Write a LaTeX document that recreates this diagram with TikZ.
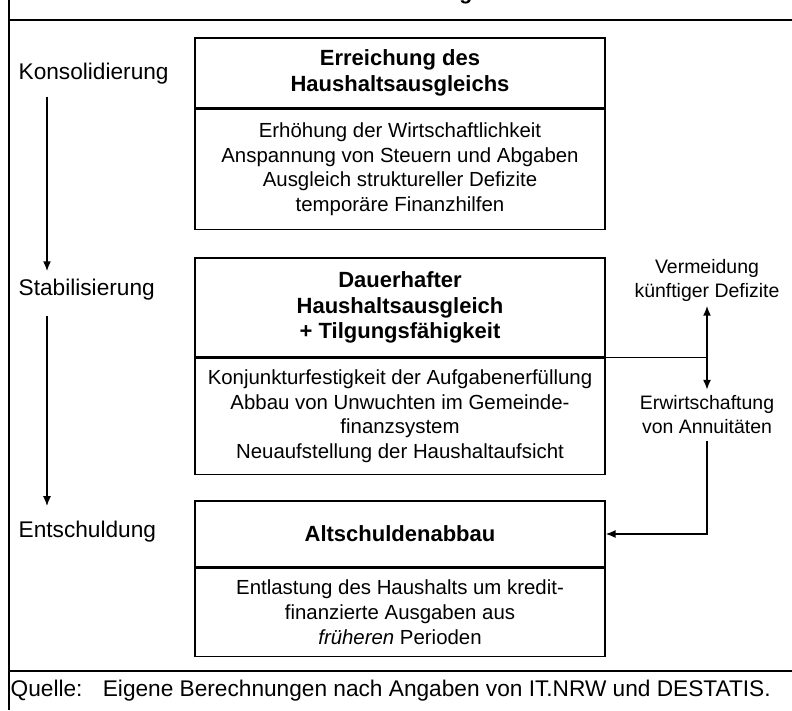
\documentclass[tikz,border=0pt]{standalone}
\usepackage{fontspec}
\setmainfont{Liberation Sans}
\usetikzlibrary{positioning}
\usetikzlibrary{arrows.meta}
\tikzset{head/.style={draw,line width=0.8pt,minimum width=307.5pt,align=center,inner sep=0pt,font=\fontsize{16.5}{19}\selectfont\bfseries},
body/.style={draw,line width=0.8pt,minimum width=307.5pt,align=center,inner sep=0pt,font=\fontsize{15.3}{18.5}\selectfont},
phase/.style={anchor=west,inner sep=0pt,font=\fontsize{17}{20}\selectfont},
note/.style={align=center,inner sep=0pt,font=\fontsize{14.6}{18}\selectfont},
arr/.style={line width=1.3pt,-{Latex[length=7.5pt,width=6pt]}},
frame/.style={line width=1.1pt}}

\begin{document}
\begin{tikzpicture}[x=0.75pt,y=-0.75pt,line width=1pt]
%[scale=0.75]
\clip (0,0) rectangle (792,710);

\node (title) at (396,-0.5) [anchor=base,inner sep=0pt,font=\fontsize{16}{18}\selectfont\bfseries] {Schritte zur dauerhaften Konsolidierung der Kommunalhaushalte};
\draw[frame] (9,0) -- (9,710);
\draw[frame] (9,20) -- (792,20);
\draw[frame] (9,671) -- (792,671);

\node (h1) at (400,73) [head,minimum height=52.5pt] {Erreichung des\\Haushaltsausgleichs};
\node (b1) [body,below=0pt of h1,minimum height=90pt] {Erhöhung der Wirtschaftlichkeit\\Anspannung von Steuern und Abgaben\\Ausgleich struktureller Defizite\\temporäre Finanzhilfen};
\node (h2) at (400,307.5) [head,minimum height=74.25pt] {Dauerhafter\\Haushaltsausgleich\\+ Tilgungsfähigkeit};
\node (b2) [body,below=0pt of h2,minimum height=87pt] {Konjunkturfestigkeit der Aufgabenerfüllung\\Abbau von Unwuchten im Gemeinde-\\finanzsystem\\Neuaufstellung der Haushaltaufsicht};
\node (h3) at (400,534) [head,minimum height=49.5pt] {Altschuldenabbau};
\node (b3) [body,below=0pt of h3,minimum height=66pt] {Entlastung des Haushalts um kredit-\\finanzierte Ausgaben aus\\\emph{früheren} Perioden};

\node (kons) at (18,74) [phase] {Konsolidierung};
\node (stab) at (18,290) [phase] {Stabilisierung};
\node (ents) at (18,532) [phase] {Entschuldung};
\draw[arr,shorten <=8.6pt,shorten >=5.6pt] ([xshift=21.75pt]kons.south west) -- ([xshift=21.75pt]stab.north west);
\draw[arr,shorten <=10.9pt,shorten >=10.9pt] ([xshift=21.75pt]stab.south west) -- ([xshift=21.75pt]ents.north west);

\node (verm) at (707,280) [note] {Vermeidung\\künftiger Defizite};
\node (erw) at (707,415) [note] {Erwirtschaftung\\von Annuitäten};
\coordinate (j) at (h2.south east -| verm);
\draw[line width=0.8pt] (h2.south east) -- (j);
\draw[arr,shorten >=3pt] (j) -- (verm);
\draw[arr,shorten >=4pt] (j) -- (erw);
\draw[arr,shorten <=5pt] (erw.south) |- (h3.east);

\node (quelle) at (10,691) [anchor=west,inner sep=0pt,font=\fontsize{17}{20}\selectfont] {Quelle:\hspace{0.9em}Eigene Berechnungen nach Angaben von IT.NRW und DESTATIS.};
\end{tikzpicture}
\end{document}
